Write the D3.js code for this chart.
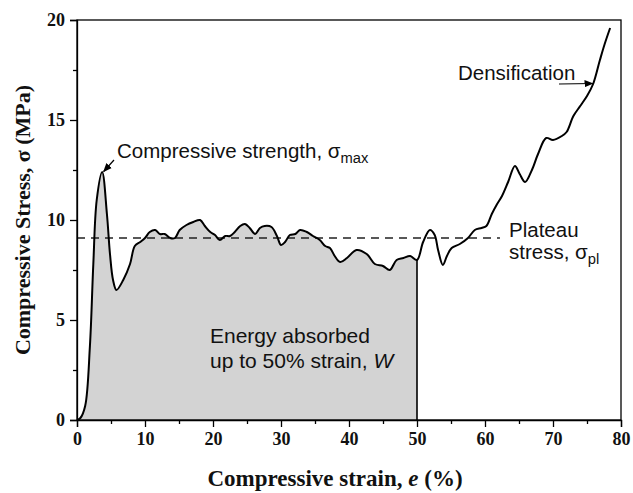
<!DOCTYPE html>
<html>
<head>
<meta charset="utf-8">
<script src="https://cdn.jsdelivr.net/npm/d3@7"></script>
<style>
  html, body { margin: 0; padding: 0; background: #fff; }
  svg { display: block; }
</style>
</head>
<body>
<svg id="chart" width="633" height="493"></svg>
<script>
// Compressive stress–strain response of a cellular sample
const strain = [0, 0.5, 1.2, 1.9, 2.4, 2.9, 3.7, 4.4, 4.85, 5.3, 5.8, 6.8, 7.8, 8.5, 9.3, 10.0,
  10.7, 11.5, 12.2, 12.9, 13.7, 14.4, 15.1, 16.1, 17.1, 18.1, 18.8, 19.6, 20.3, 21.0, 21.8,
  22.5, 23.2, 24.0, 24.7, 25.4, 26.2, 26.9, 27.6, 28.6, 29.4, 30.0, 30.6, 31.3, 32.1, 32.8,
  33.8, 34.7, 35.7, 36.5, 37.2, 37.9, 38.7, 39.7, 41.1, 42.6, 43.8, 45.0, 46.0, 47.0, 48.0,
  49.0, 50.0, 50.9, 51.9, 52.6, 53.1, 53.8, 54.4, 55.1, 56.3, 57.5, 58.5, 59.5, 60.2, 61.0,
  61.7, 62.5, 63.4, 64.4, 65.1, 65.9, 66.9, 67.8, 69.0, 70.0, 71.3, 72.0, 73.0, 74.0, 75.0,
  75.9, 76.9, 77.6, 78.4];
const stress = [0, 0.1, 0.7, 3.7, 7.8, 11.0, 12.4, 10.3, 8.3, 7.0, 6.5, 7.0, 7.8, 8.7, 8.9, 9.1,
  9.4, 9.5, 9.3, 9.3, 9.1, 9.1, 9.5, 9.75, 9.9, 10.0, 9.7, 9.4, 9.25, 9.0, 9.2,
  9.2, 9.4, 9.7, 9.8, 9.6, 9.3, 9.6, 9.7, 9.65, 9.2, 8.75, 8.9, 9.25, 9.3, 9.5,
  9.4, 9.2, 9.0, 8.7, 8.6, 8.2, 7.9, 8.1, 8.5, 8.3, 7.8, 7.7, 7.5, 8.0, 8.1,
  8.2, 8.0, 8.9, 9.5, 9.25, 8.5, 7.75, 8.2, 8.6, 8.8, 9.1, 9.5, 9.6, 9.7, 10.3,
  10.75, 11.2, 11.9, 12.7, 12.3, 11.9, 12.5, 13.3, 14.1, 14.0, 14.2, 14.4, 15.2, 15.7, 16.2,
  16.8, 18.0, 18.8, 19.6];

const xTicks = [0, 10, 20, 30, 40, 50, 60, 70, 80];
const yTicks = [0, 5, 10, 15, 20];
const xMinor = [5, 15, 25, 35, 45, 55, 65, 75];
const yMinor = [2.5, 7.5, 12.5, 17.5];

const plateauStress = 9.1;    // σpl
const plateauEnd = 62.2;      // extent of the dashed plateau line
const energyLimit = 50;       // strain limit for absorbed energy W
const peakIndex = 6;          // σmax point
const densIndex = 91;         // point marked as densification

const margin = { left: 77, right: 12, top: 20, bottom: 73 };
const W = 633, H = 493;
const svg = d3.select("#chart");

const x = d3.scaleLinear().domain([0, 80]).range([margin.left, W - margin.right]);
const y = d3.scaleLinear().domain([0, 20]).range([H - margin.bottom, margin.top]);

const pts = strain.map((s, i) => ({ e: s, s: stress[i] }));
const fillPts = pts.filter(d => d.e <= energyLimit);

const defs = svg.append("defs");
defs.append("marker")
  .attr("id", "head")
  .attr("viewBox", "0 0 10 10")
  .attr("refX", 9).attr("refY", 5)
  .attr("markerWidth", 9).attr("markerHeight", 9)
  .attr("markerUnits", "userSpaceOnUse")
  .attr("orient", "auto")
  .append("path").attr("d", "M0,1 L10,5 L0,9 Z").attr("fill", "#000");

// shaded area = energy absorbed up to 50 % strain
const area = d3.area()
  .x(d => x(d.e)).y0(y(0)).y1(d => y(d.s))
  .curve(d3.curveCatmullRom.alpha(0.5));
svg.append("path").datum(fillPts)
  .attr("d", area)
  .attr("fill", "#d3d3d3");

// vertical boundary at 50 %
svg.append("line")
  .attr("x1", x(energyLimit)).attr("x2", x(energyLimit))
  .attr("y1", y(0)).attr("y2", y(stress[strain.indexOf(energyLimit)]))
  .attr("stroke", "#000").attr("stroke-width", 1.6);

// plateau stress level
svg.append("line")
  .attr("x1", x(0)).attr("x2", x(plateauEnd))
  .attr("y1", y(plateauStress)).attr("y2", y(plateauStress))
  .attr("stroke", "#222").attr("stroke-width", 1.3)
  .attr("stroke-dasharray", "8,6");

// stress–strain curve
const line = d3.line()
  .x(d => x(d.e)).y(d => y(d.s))
  .curve(d3.curveCatmullRom.alpha(0.5));
svg.append("path").datum(pts)
  .attr("d", line)
  .attr("fill", "none")
  .attr("stroke", "#000")
  .attr("stroke-width", 2);

// frame
svg.append("rect")
  .attr("x", x(0)).attr("y", y(20))
  .attr("width", x(80) - x(0)).attr("height", y(0) - y(20))
  .attr("fill", "none").attr("stroke", "#000").attr("stroke-width", 1.3);

// axes
const tickFont = "'Liberation Serif', 'Times New Roman', serif";
const xAxis = svg.append("g")
  .attr("transform", `translate(0,${y(0)})`)
  .call(d3.axisBottom(x).tickValues(xTicks).tickSize(7).tickPadding(5).tickFormat(d3.format("d")));
svg.append("g")
  .attr("transform", `translate(0,${y(0)})`)
  .call(d3.axisBottom(x).tickValues(xMinor).tickSize(4).tickFormat(""))
  .call(g => g.select(".domain").remove());
const yAxis = svg.append("g")
  .attr("transform", `translate(${x(0)},0)`)
  .call(d3.axisLeft(y).tickValues(yTicks).tickSize(7).tickPadding(5).tickFormat(d3.format("d")));
svg.append("g")
  .attr("transform", `translate(${x(0)},0)`)
  .call(d3.axisLeft(y).tickValues(yMinor).tickSize(4).tickFormat(""))
  .call(g => g.select(".domain").remove());

svg.selectAll(".tick line").attr("stroke", "#000").attr("stroke-width", 1.3);
svg.selectAll(".domain").attr("stroke", "#000").attr("stroke-width", 1.3);
[xAxis, yAxis].forEach(g => g.selectAll("text")
  .attr("font-family", tickFont).attr("font-weight", "bold")
  .attr("font-size", 18).attr("fill", "#111"));

// axis titles
svg.append("text")
  .attr("x", 335).attr("y", 486)
  .attr("text-anchor", "middle")
  .attr("font-family", tickFont).attr("font-weight", "bold").attr("font-size", 23)
  .attr("fill", "#111")
  .call(t => {
    t.append("tspan").text("Compressive strain, ");
    t.append("tspan").attr("font-style", "italic").text("e");
    t.append("tspan").text(" (%)");
  });

svg.append("text")
  .attr("transform", `translate(30,${(y(0) + y(20)) / 2}) rotate(-90)`)
  .attr("text-anchor", "middle")
  .attr("font-family", tickFont).attr("font-weight", "bold").attr("font-size", 22)
  .attr("fill", "#111")
  .text("Compressive Stress, σ (MPa)");

// annotations
const noteFont = "'Liberation Sans', Arial, sans-serif";
function note(px, py, parts, size) {
  const t = svg.append("text").attr("x", px).attr("y", py)
    .attr("font-family", noteFont).attr("font-size", size).attr("fill", "#111");
  parts.forEach(p => {
    const s = t.append("tspan").text(p.t);
    if (p.sub) s.attr("font-size", size * 0.72).attr("dy", 5);
    if (p.it) s.attr("font-style", "italic");
  });
  return t;
}

note(117, 158, [{ t: "Compressive strength, σ" }, { t: "max", sub: true }], 20.5);
svg.append("line")
  .attr("x1", 114).attr("y1", 160)
  .attr("x2", x(strain[peakIndex]) + 1.5).attr("y2", y(stress[peakIndex]) - 0.5)
  .attr("stroke", "#000").attr("stroke-width", 1.2)
  .attr("marker-end", "url(#head)");

note(509, 237, [{ t: "Plateau" }], 20.5);
note(509, 259, [{ t: "stress, σ" }, { t: "pl", sub: true }], 20.5);

note(458, 80, [{ t: "Densification" }], 20.5);
svg.append("line")
  .attr("x1", 559).attr("y1", 84)
  .attr("x2", x(strain[densIndex]) - 0.5).attr("y2", y(stress[densIndex]) - 0.5)
  .attr("stroke", "#000").attr("stroke-width", 1.2)
  .attr("marker-end", "url(#head)");

note(210, 343, [{ t: "Energy absorbed" }], 21);
note(210, 368, [{ t: "up to 50% strain, " }, { t: "W", it: true }], 21);
</script>
</body>
</html>
